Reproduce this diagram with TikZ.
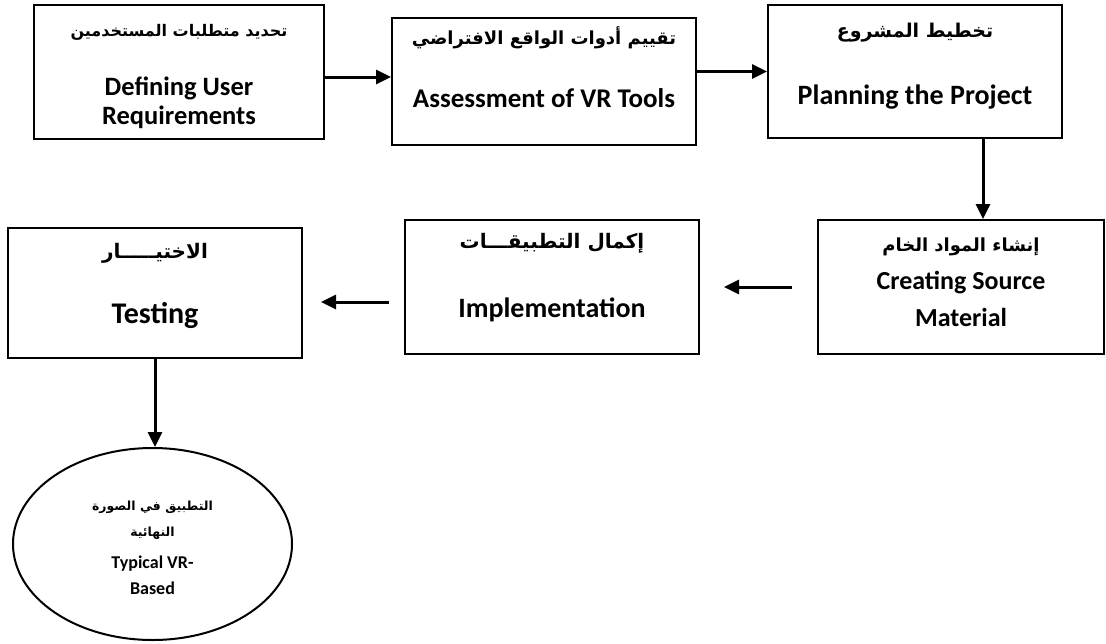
\documentclass[tikz,border=0pt]{standalone}
\usepackage{fontspec}
\setmainfont{Carlito}
\newfontfamily\arabicfont[Script=Arabic]{DejaVu Sans}
\TeXXeTstate=1
\usepackage{tikz}
\usetikzlibrary{arrows.meta,positioning,calc,shapes.geometric}

\begin{document}
\begin{tikzpicture}[x=1pt,y=-1pt,
  stage/.style={draw,line width=2pt,inner sep=0pt},
  arr/.style={line width=3pt,-{Triangle[length=15pt,width=14pt]}},
  ar/.style={font=\arabicfont\bfseries\fontsize{18}{22}\selectfont},
  en/.style={font=\bfseries\fontsize{28}{29}\selectfont,align=center}]
\useasboundingbox (0,0) rectangle (1106,643);
% boxes
\node[stage,minimum width=290pt,minimum height=134pt] (req) at (179,72) {};
\node[stage,minimum width=304pt,minimum height=127pt] (tools) at (544,81.5) {};
\node[stage,minimum width=294pt,minimum height=133pt] (plan) at (915,71.5) {};
\node[stage,minimum width=286pt,minimum height=134pt] (source) at (961,287) {};
\node[stage,minimum width=294pt,minimum height=134pt] (impl) at (552,287) {};
\node[stage,minimum width=294pt,minimum height=130pt] (test) at (155,293) {};
\node[stage,ellipse,minimum width=279pt,minimum height=192pt] (final) at (152.5,544) {};
% labels
\node[ar,font=\arabicfont\bfseries\fontsize{16}{20}\selectfont] (reqar) at (179,32) {\beginR تحديد متطلبات المستخدمين\endR};
\node[en,font=\bfseries\fontsize{26.5}{29}\selectfont] (reqen) at (179,103) {Defining User\\Requirements};
\node[ar] (toolsar) at (544,38) {\beginR تقييم أدوات الواقع الافتراضي\endR};
\node[en,font=\bfseries\fontsize{27}{29}\selectfont] (toolsen) at (544,98) {Assessment of VR Tools};
\node[ar,font=\arabicfont\bfseries\fontsize{19}{22}\selectfont] (planar) at (915,33) {\beginR تخطيط المشروع\endR};
\node[en] (planen) at (915,97) {Planning the Project};
\node[ar] (sourcear) at (961,247) {\beginR إنشاء المواد الخام\endR};
\node[en,font=\bfseries\fontsize{26}{29}\selectfont] (sourceen) at (961,299) {Creating Source\\[8pt]Material};
\node[ar,font=\arabicfont\bfseries\fontsize{20}{22}\selectfont] (implar) at (552,243) {\beginR إكمال التطبيقـــات\endR};
\node[en] (implen) at (552,310) {Implementation};
\node[ar,font=\arabicfont\bfseries\fontsize{20}{22}\selectfont] (testar) at (155,253) {\beginR الاختيـــــار\endR};
\node[en,font=\bfseries\fontsize{30}{29}\selectfont] (testen) at (155,315) {Testing};
\node[ar,align=center,font=\arabicfont\bfseries\fontsize{12.5}{26}\selectfont] (finalar) at (152.5,520) {\beginR التطبيق في الصورة\endR\\\beginR النهائية\endR};
\node[en,font=\bfseries\fontsize{18}{26}\selectfont] (finalen) at (152.5,575) {Typical VR-\\Based};
% connectors
\draw[arr] ([yshift=-5pt]req.east) -- ([yshift=-5pt]req.east -| tools.west);
\draw[arr] (tools.east |- plan.west) -- (plan.west);
\draw[arr] ([xshift=22pt]source.north |- plan.south) -- ([xshift=22pt]source.north);
\draw[arr] ([xshift=-25pt]source.west) -- ([xshift=24pt]impl.east);
\draw[arr] ([xshift=-15pt,yshift=-15pt]impl.west) -- ([xshift=18pt,yshift=-15pt]impl.west -| test.east);
\draw[arr] (test.south) -- (test.south |- final.north);
\end{tikzpicture}
\end{document}
